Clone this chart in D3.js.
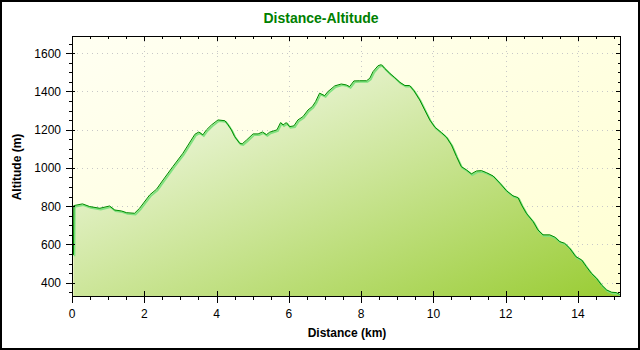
<!DOCTYPE html>
<html>
<head>
<meta charset="utf-8">
<script src="https://cdn.jsdelivr.net/npm/d3@7"></script>
<style>
  html, body { margin: 0; padding: 0; background: #fff; }
  svg { display: block; }
  text { font-family: "Liberation Sans", Arial, sans-serif; }
</style>
</head>
<body>
<svg id="chart" width="640" height="350"></svg>
<script>
// Elevation profile: distance along the route (km) and altitude (m)
const distanceKm = [
  0.04, 0.05, 0.29, 0.49, 0.77, 1.04, 1.18, 1.37, 1.51, 1.73, 1.87,
  2.15, 2.34, 2.52, 2.79, 3.07, 3.30, 3.40, 3.51, 3.62, 3.72, 3.86,
  4.04, 4.23, 4.32, 4.41, 4.50, 4.64, 4.71, 4.83, 5.01, 5.15, 5.27,
  5.38, 5.47, 5.67, 5.77, 5.84, 5.93, 6.02, 6.14, 6.25, 6.39, 6.53,
  6.65, 6.74, 6.85, 6.99, 7.08, 7.27, 7.45, 7.59, 7.68, 7.80, 7.96,
  8.15, 8.24, 8.33, 8.47, 8.56, 8.65, 8.79, 8.93, 9.07, 9.21, 9.34,
  9.46, 9.62, 9.76, 9.90, 10.04, 10.22, 10.36, 10.50, 10.64, 10.77,
  10.91, 11.05, 11.19, 11.33, 11.47, 11.65, 11.84, 12.02, 12.20, 12.34,
  12.44, 12.57, 12.76, 12.89, 13.03, 13.22, 13.36, 13.49, 13.63, 13.77,
  13.94, 14.10, 14.23, 14.37, 14.51, 14.65, 14.79, 14.93, 15.06, 15.15
];
const altitudeM = [
  545, 803, 812, 798, 789, 801, 780, 775, 766, 763, 789,
  859, 889, 937, 1007, 1077, 1146, 1176, 1188, 1173, 1199, 1225,
  1251, 1247, 1225, 1199, 1164, 1129, 1126, 1146, 1178, 1178, 1188,
  1174, 1187, 1199, 1237, 1225, 1237, 1216, 1220, 1251, 1268, 1303,
  1321, 1347, 1391, 1378, 1399, 1429, 1439, 1434, 1425, 1455, 1456,
  1456, 1469, 1504, 1535, 1540, 1521, 1495, 1472, 1448, 1431, 1431,
  1404, 1356, 1303, 1251, 1213, 1185, 1161, 1120, 1059, 1007,
  990, 969, 984, 986, 975, 958, 920, 881, 854, 845,
  806, 763, 719, 676, 650, 650, 638, 615, 606, 580,
  536, 519, 484, 449, 423, 388, 362, 350, 348, 339
];
const xTickLabels = [0, 2, 4, 6, 8, 10, 12, 14];
const yTickLabels = [400, 600, 800, 1000, 1200, 1400, 1600];
const titleText = "Distance-Altitude";
const xAxisTitle = "Distance (km)";
const yAxisTitle = "Altitude (m)";

const profile = distanceKm.map((d, i) => ({ d, a: altitudeM[i] }));

const svg = d3.select("#chart");
const W = 640, H = 350;
const plot = { left: 72, right: 621, top: 36, bottom: 297 };

const x = d3.scaleLinear().domain([0, 15.19]).range([plot.left, plot.right]);
const y = d3.scaleLinear().domain([325, 1690]).range([plot.bottom, plot.top]);

const defs = svg.append("defs");
const bgGrad = defs.append("linearGradient").attr("id", "bgGrad")
  .attr("x1", 0).attr("y1", 0).attr("x2", 1).attr("y2", 1);
bgGrad.append("stop").attr("offset", 0).attr("stop-color", "#fffff2");
bgGrad.append("stop").attr("offset", 1).attr("stop-color", "#ffffd2");

// diagonal gradient over the filled area's own bounding box
const areaGrad = defs.append("linearGradient").attr("id", "areaGrad")
  .attr("x1", 0).attr("y1", 0).attr("x2", 1).attr("y2", 1);
areaGrad.append("stop").attr("offset", 0).attr("stop-color", "#ffffff");
areaGrad.append("stop").attr("offset", 1).attr("stop-color", "#99cc33");

defs.append("clipPath").attr("id", "plotClip")
  .append("rect")
  .attr("x", plot.left).attr("y", plot.top)
  .attr("width", plot.right - plot.left).attr("height", plot.bottom - plot.top);

// outer frame
svg.append("rect").attr("x", 1).attr("y", 1).attr("width", W - 2).attr("height", H - 2)
  .attr("fill", "#fff").attr("stroke", "#000").attr("stroke-width", 2);

// plot background
svg.append("rect")
  .attr("x", plot.left).attr("y", plot.top)
  .attr("width", plot.right - plot.left).attr("height", plot.bottom - plot.top)
  .attr("fill", "url(#bgGrad)");

// dotted grid
const grid = svg.append("g").attr("stroke", "#c8c8c8").attr("stroke-width", 1)
  .attr("stroke-dasharray", "1,4");
xTickLabels.filter(v => v > 0).forEach(v => {
  grid.append("line")
    .attr("x1", Math.round(x(v)) + 0.5).attr("x2", Math.round(x(v)) + 0.5)
    .attr("y1", plot.top).attr("y2", plot.bottom);
});
yTickLabels.forEach(v => {
  grid.append("line")
    .attr("y1", Math.round(y(v)) + 0.5).attr("y2", Math.round(y(v)) + 0.5)
    .attr("x1", plot.left).attr("x2", plot.right);
});

// area + profile line
const g = svg.append("g").attr("clip-path", "url(#plotClip)");
const area = d3.area().x(p => x(p.d)).y0(plot.bottom).y1(p => y(p.a));
const line = d3.line().x(p => x(p.d)).y(p => y(p.a));

g.append("path").datum(profile).attr("d", area).attr("fill", "url(#areaGrad)");
g.append("path").datum(profile).attr("d", line)
  .attr("transform", "translate(1,1.2)")
  .attr("fill", "none").attr("stroke", "#7fe27f").attr("stroke-width", 1.8);
g.append("path").datum(profile).attr("d", line)
  .attr("fill", "none").attr("stroke", "#008a00").attr("stroke-width", 1);

// axes box
svg.append("rect")
  .attr("x", plot.left + 0.5).attr("y", plot.top + 0.5)
  .attr("width", plot.right - plot.left - 1).attr("height", plot.bottom - plot.top - 1)
  .attr("fill", "none").attr("stroke", "#000").attr("stroke-width", 1);

const ticks = svg.append("g").attr("stroke", "#000").attr("stroke-width", 1);
const xMinor = d3.range(0, 15.01, 0.5);
const yMinor = d3.range(350, 1690, 50);

// x ticks (bottom: through axis for major, outward for minor; top: inward)
xMinor.forEach(v => {
  const px = Math.round(x(v)) + 0.5;
  const major = xTickLabels.includes(v);
  ticks.append("line").attr("x1", px).attr("x2", px)
    .attr("y1", plot.bottom - (major ? 6 : 0)).attr("y2", plot.bottom + (major ? 6 : 3));
  ticks.append("line").attr("x1", px).attr("x2", px)
    .attr("y1", plot.top).attr("y2", plot.top + (major ? 5 : 3));
});
// y ticks (left: outward, major crossing; right: inward)
yMinor.forEach(v => {
  const py = Math.round(y(v)) + 0.5;
  const major = yTickLabels.includes(v);
  ticks.append("line").attr("y1", py).attr("y2", py)
    .attr("x1", plot.left - (major ? 6 : 3)).attr("x2", plot.left + (major ? 3 : 0));
  ticks.append("line").attr("y1", py).attr("y2", py)
    .attr("x1", plot.right - (major ? 5 : 3)).attr("x2", plot.right);
});

// tick labels
svg.append("g").selectAll("text").data(xTickLabels).join("text")
  .attr("x", v => x(v)).attr("y", 318)
  .attr("text-anchor", "middle").attr("font-size", 12).attr("fill", "#000")
  .text(v => v);
svg.append("g").selectAll("text").data(yTickLabels).join("text")
  .attr("x", 61).attr("y", v => y(v) + 4.5)
  .attr("text-anchor", "end").attr("font-size", 12).attr("fill", "#000")
  .text(v => v);

// titles
svg.append("text").attr("x", 321).attr("y", 23)
  .attr("text-anchor", "middle").attr("font-size", 14).attr("font-weight", "bold")
  .attr("fill", "#008000").text(titleText);
svg.append("text").attr("x", 347).attr("y", 337)
  .attr("text-anchor", "middle").attr("font-size", 12).attr("font-weight", "bold")
  .attr("fill", "#000").text(xAxisTitle);
svg.append("text")
  .attr("transform", "translate(21,167) rotate(-90)")
  .attr("text-anchor", "middle").attr("font-size", 12).attr("font-weight", "bold")
  .attr("fill", "#000").text(yAxisTitle);
</script>
</body>
</html>
